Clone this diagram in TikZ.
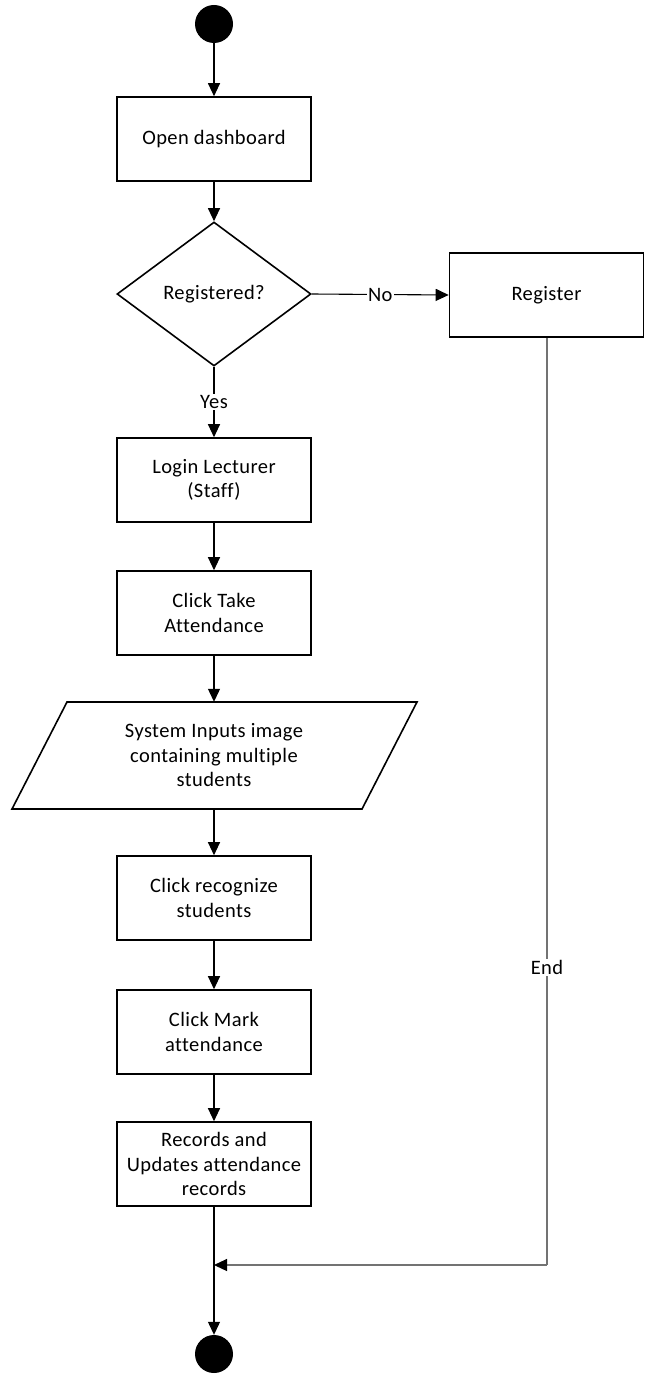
\documentclass[tikz,border=0pt]{standalone}
\usepackage{fontspec}
\setmainfont[Ligatures=NoCommon, LetterSpace=2]{Carlito}
\usetikzlibrary{shapes.geometric,arrows.meta}

\tikzset{
  base/.style={font=\fontsize{20.5}{24.5}\selectfont, align=center},
  stepbox/.style={base, draw, line width=1.6, rectangle, minimum width=194, minimum height=84, inner sep=0},
  decision/.style={base, draw, line width=1.6, diamond, minimum width=194, minimum height=144, inner sep=0},
  terminal/.style={circle, fill=black, minimum size=38, inner sep=0},
  flow/.style={line width=1.1, -{Triangle[length=13,width=12,color=black]}},
  tag/.style={base, fill=white, inner sep=1.5}
}

\begin{document}
\begin{tikzpicture}[x=1pt, y=-1pt]
  \useasboundingbox (0,0) rectangle (645,1383);

  % main column
  \node[terminal] (start) at (214,24) {};
  \node[stepbox] (open) at (214,139) {Open dashboard};
  \node[decision] (reg) at (214,294) {Registered?};
  \node[stepbox] (register) at (546.5,295) {Register};
  \node[stepbox] (login) at (214,480) {Login Lecturer\\(Staff)};
  \node[stepbox] (take) at (214,613) {Click Take\\Attendance};

  % input parallelogram
  \node[base, minimum width=350, minimum height=107, inner sep=0] (input) at (214,755.5)
    {System Inputs image\\containing multiple\\students};
  \draw[line width=1.6, line join=miter] (67,702) -- (417,702) -- (362,809) -- (12,809) -- cycle;

  \node[stepbox] (recog) at (214,898) {Click recognize\\students};
  \node[stepbox] (mark) at (214,1032) {Click Mark\\attendance};
  \node[stepbox] (records) at (214,1164) {Records and\\Updates attendance\\records};
  \coordinate (merge) at (214,1265);
  \coordinate (corner) at (547,1265);
  \node[terminal] (stop) at (214,1354) {};

  % connectors
  \draw[flow] (start) -- (open);
  \draw[flow] (open) -- (reg.north);
  \draw[flow] (reg.east) -- node[tag] {No} (register.west);
  \draw[flow] (reg.south) -- node[tag] {Yes} (login.north);
  \draw[flow] (login) -- (take);
  \draw[flow] (take) -- (input.north);
  \draw[flow] (input.south) -- (recog);
  \draw[flow] (recog) -- (mark);
  \draw[flow] (mark) -- (records);
  \draw[flow] (records) -- (stop);
  \draw[line width=1.3, draw=black!55] (register.south -| corner) -- node[tag, pos=0.679, text=black] {End} (corner);
  \draw[flow, draw=black!55] (corner) -- (merge);
\end{tikzpicture}
\end{document}
